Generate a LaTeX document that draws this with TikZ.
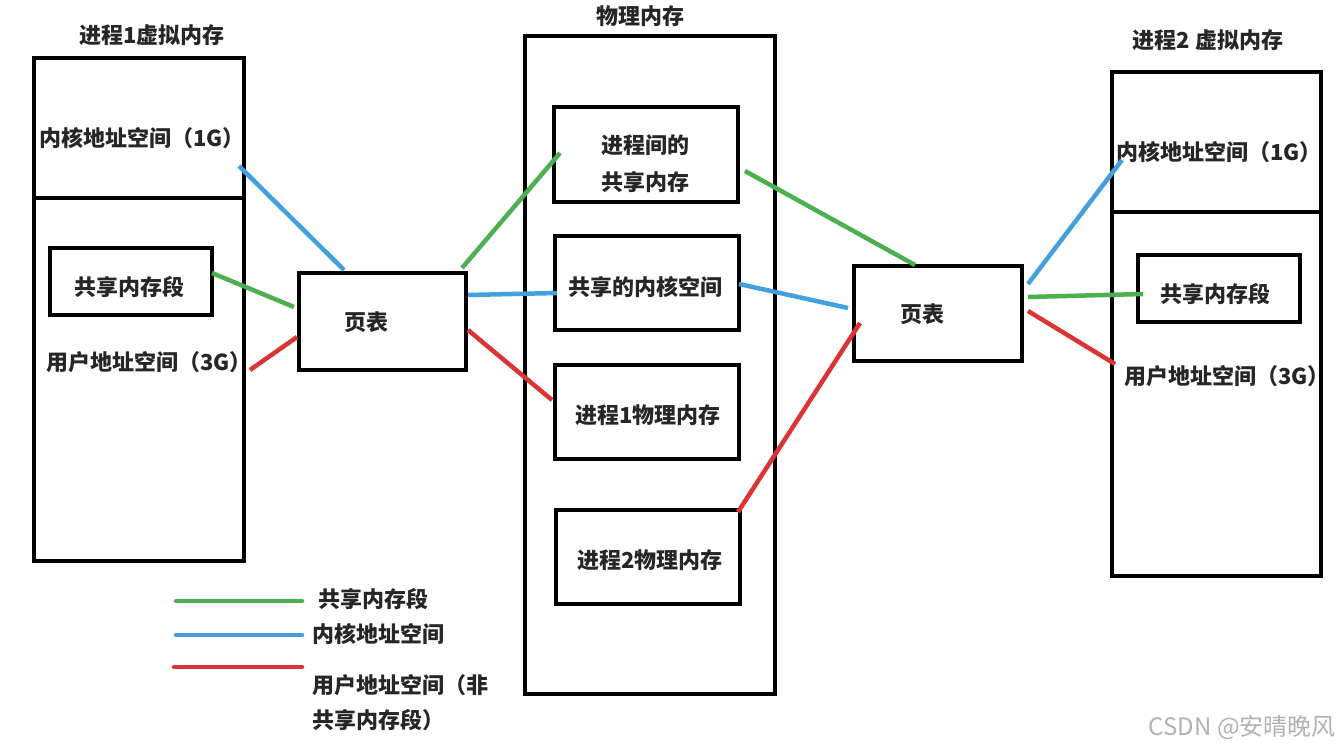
\documentclass[tikz,border=0pt]{standalone}
\usepackage{fontspec}
\setmainfont{Noto Sans CJK SC}
\begin{document}
\begin{tikzpicture}[x=1pt,y=-1pt,
  box/.style={draw=black,line width=4pt},
  lbl/.style={font=\fontsize{22}{26}\selectfont\bfseries,inner sep=0pt,text=black!85},
  gl/.style={draw={rgb,255:red,76;green,175;blue,80},line width=4.5pt},
  bl/.style={draw={rgb,255:red,66;green,160;blue,222},line width=4.5pt},
  rl/.style={draw={rgb,255:red,218;green,52;blue,52},line width=4.5pt}]
\useasboundingbox (0,0) rectangle (1339,751);
\fill[white] (0,0) rectangle (1339,751);
% left virtual memory
\draw[box] (34,58) rectangle (244,561);
\draw[box] (34,198) -- (244,198);
\node[lbl] (t1) at (152,35) {进程1虚拟内存};
\node[lbl,anchor=west] (k1) at (39,138) {内核地址空间（1G）};
\node[box,minimum width=162pt,minimum height=67pt,inner sep=0pt] (s1) at (131,281.5) {};
\node[lbl] (s1t) at (129,287) {共享内存段};
\node[lbl,anchor=west] (u1) at (46,362) {用户地址空间（3G）};
% page table 1
\node[box,minimum width=167pt,minimum height=97pt,inner sep=0pt] (p1) at (382.5,321.5) {};
\node[lbl] (p1t) at (366,322) {页表};
% physical memory
\draw[box] (525,36) rectangle (775,694);
\node[lbl] (tp) at (640,16) {物理内存};
\node[box,minimum width=184pt,minimum height=95pt,inner sep=0pt] (A) at (646,154.5) {};
\node[lbl] at (645,145) {进程间的};
\node[lbl] at (645,182) {共享内存};
\node[box,minimum width=184pt,minimum height=94pt,inner sep=0pt] (B) at (647,283) {};
\node[lbl] at (645,287) {共享的内核空间};
\node[box,minimum width=184pt,minimum height=94pt,inner sep=0pt] (C) at (647,412) {};
\node[lbl] at (648,415) {进程1物理内存};
\node[box,minimum width=184pt,minimum height=94pt,inner sep=0pt] (D) at (648,557) {};
\node[lbl] at (650,560) {进程2物理内存};
% page table 2
\node[box,minimum width=168pt,minimum height=95pt,inner sep=0pt] (p2) at (938,313.5) {};
\node[lbl] (p2t) at (922,314) {页表};
% right virtual memory
\draw[box] (1112,72) rectangle (1321,576);
\draw[box] (1112,212) -- (1321,212);
\node[lbl] (t2) at (1208,40) {进程2 虚拟内存};
\node[lbl,anchor=west] (k2) at (1116,152) {内核地址空间（1G）};
\node[box,minimum width=162pt,minimum height=67pt,inner sep=0pt] (s2) at (1219,288.5) {};
\node[lbl] (s2t) at (1215,294) {共享内存段};
\node[lbl,anchor=west] (u2) at (1124,376) {用户地址空间（3G）};
% connector endpoints
\coordinate (a1) at (239,166); \coordinate (a2) at (344,270);
\coordinate (b1) at (212,273); \coordinate (b2) at (294,307);
\coordinate (c1) at (250,370); \coordinate (c2) at (297,337);
\coordinate (d1) at (462,268); \coordinate (d2) at (560,153);
\coordinate (e1) at (468,295); \coordinate (e2) at (557,293);
\coordinate (f1) at (468,330); \coordinate (f2) at (552,400);
\coordinate (g1) at (745,171); \coordinate (g2) at (915,265);
\coordinate (h1) at (739,284); \coordinate (h2) at (848,308);
\coordinate (i1) at (738,512); \coordinate (i2) at (860,323);
\coordinate (j1) at (1028,284); \coordinate (j2) at (1122,160);
\coordinate (k1c) at (1028,297); \coordinate (k2c) at (1143,294);
\coordinate (l1) at (1028,311); \coordinate (l2) at (1115,364);
\draw[bl] (a1) -- (a2);
\draw[gl] (b1) -- (b2);
\draw[rl] (c1) -- (c2);
\draw[gl] (d1) -- (d2);
\draw[bl] (e1) -- (e2);
\draw[rl] (f1) -- (f2);
\draw[gl] (g1) -- (g2);
\draw[bl] (h1) -- (h2);
\draw[rl] (i1) -- (i2);
\draw[bl] (j1) -- (j2);
\draw[gl] (k1c) -- (k2c);
\draw[rl] (l1) -- (l2);
% legend
\coordinate (lg1) at (176,601); \coordinate (lg2) at (302,601);
\coordinate (lb1) at (176,635); \coordinate (lb2) at (302,635);
\coordinate (lr1) at (174,667); \coordinate (lr2) at (302,667);
\draw[gl,line cap=round] (lg1) -- (lg2);
\draw[bl,line cap=round] (lb1) -- (lb2);
\draw[rl,line cap=round] (lr1) -- (lr2);
\node[lbl,anchor=west] (lgt) at (318,599) {共享内存段};
\node[lbl,anchor=west] (lbt) at (312,634) {内核地址空间};
\node[lbl,anchor=west] (lrt) at (312,685) {用户地址空间（非};
\node[lbl,anchor=west] (lrt2) at (312,720) {共享内存段）};
% watermark
\node[anchor=east,inner sep=0pt,font=\fontsize{24}{28}\selectfont,text=black!30] (wm) at (1336,727) {CSDN @安晴晚风};
\end{tikzpicture}
\end{document}
